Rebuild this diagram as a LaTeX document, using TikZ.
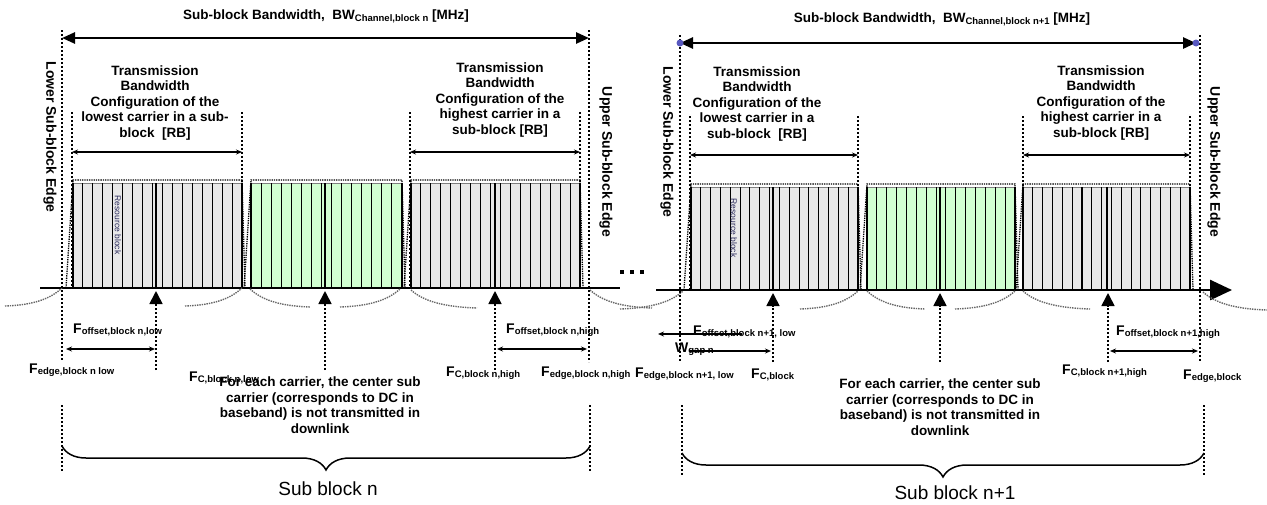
\documentclass[tikz,border=0pt]{standalone}
\usepackage{fontspec}
\setmainfont{Liberation Sans}
\usetikzlibrary{arrows.meta,decorations.pathreplacing}
\newcommand{\FF}[1]{{\fontsize{14}{14}\selectfont F}{\fontsize{9.5}{10}\selectfont\raisebox{-1.5pt}{#1}}}
\newcommand{\rbregion}[6]{% x0 x1 nbars fill ytop ybase
  \fill[#4] (#1,#5) rectangle (#2,#6);
  \draw[gray, line width=0.6pt] (#1,#5) -- (#2,#5);
  \foreach \k in {0,...,#3} \draw[line width=1.1pt] ({#1+\k*(#2-#1)/#3},#5) -- ({#1+\k*(#2-#1)/#3},#6);
  \draw[densely dotted, line width=1.3pt] ({#1-7},#6) -- (#1,{#5-3}) -- (#2,{#5-3}) -- ({#2+3},#6);
}
\newcommand{\riseArc}[3]{\draw[arcst] (#1,{#3+18}) .. controls ({(#1+#2)/2},{#3+17}) and ({#2-12},{#3+11}) .. (#2,#3);}
\newcommand{\fallArc}[3]{\draw[arcst] (#1,#3) .. controls ({#1+12},{#3+11}) and ({(#1+#2)/2},{#3+17}) .. (#2,{#3+18});}
\tikzset{
  vdot/.style={line width=1.7pt, dash pattern=on 1.7pt off 2.3pt},
  arcst/.style={gray!80!black, line width=1.4pt, densely dotted},
  lbl/.style={font=\bfseries\fontsize{13.5}{15.5}\selectfont, align=center, inner sep=0pt},
  flbl/.style={font=\bfseries, anchor=base west, inner sep=0pt},
  sidelbl/.style={font=\bfseries\fontsize{14}{15}\selectfont, rotate=-90, inner sep=0pt},
  ttl/.style={font=\bfseries\fontsize{13.5}{15}\selectfont, inner sep=0pt},
  bigarrow/.style={line width=2.6pt, {Triangle[length=13pt,width=11pt]}-{Triangle[length=13pt,width=11pt]}},
  smallarrow/.style={line width=1.2pt, {Stealth[length=6pt,width=5pt]}-{Stealth[length=6pt,width=5pt]}},
  uparrow/.style={vdot, -{Triangle[length=13pt,width=13pt]}},
  rbtext/.style={font=\fontsize{8.5}{9}\selectfont, rotate=-90, text={rgb,255:red,40;green,40;blue,90}, inner sep=0pt},
  subblk/.style={font=\fontsize{19}{21}\selectfont, inner sep=0pt},
  brc/.style={decorate, decoration={brace, mirror, amplitude=24pt}, line width=1.5pt}
}
\begin{document}
\begin{tikzpicture}[x=1pt,y=-1pt]
\useasboundingbox (0,0) rectangle (1267,504);

% ================= LEFT SUB-BLOCK =================
\rbregion{73}{242}{17}{gray!17}{183}{288}
\rbregion{251}{402}{15}{green!18}{183}{288}
\rbregion{411}{580}{17}{gray!17}{183}{288}
\foreach \c in {156,325,495} \draw[line width=2pt] (\c,183) -- (\c,288);
\node[rbtext] (rbl) at (118,225) {Resource block};

\draw[line width=2.6pt] (40,288) -- (620,288);

\riseArc{5}{62}{288}
\riseArc{185}{242}{288}
\fallArc{250}{310}{289}
\riseArc{340}{400}{289}
\fallArc{411}{477}{290}
\fallArc{590}{652}{290}

% tall dotted lines
\coordinate (Ltl) at (62,30); \coordinate (Lbl) at (62,360);
\coordinate (Rtl) at (589,30); \coordinate (Rbl) at (589,362);
\draw[vdot] (Ltl) -- (Lbl);
\draw[vdot] (Rtl) -- (Rbl);
\foreach \xx in {72,242,410,580} \draw[vdot] (\xx,112) -- (\xx,288);

% top arrow and title
\coordinate (TAl) at (62,38); \coordinate (TAr) at (589,38);
\draw[bigarrow] (TAl) -- (TAr);
\node[ttl] (titleL) at (326,16) {Sub-block Bandwidth,~~BW{\fontsize{9.5}{10}\selectfont\raisebox{-2pt}{Channel,block n}} [MHz]};

\node[sidelbl] (lowL) at (50,137) {Lower Sub-block Edge};
\node[sidelbl] (upL) at (606,162) {Upper Sub-block Edge};

\node[lbl] (tbL1) at (155,103) {Transmission\\Bandwidth\\Configuration of the\\lowest carrier in a sub-\\block~~[RB]};
\node[lbl] (tbL2) at (500,100) {Transmission\\Bandwidth\\Configuration of the\\highest carrier in a\\sub-block [RB]};
\coordinate (a1l) at (72,152); \coordinate (a1r) at (242,152);
\coordinate (a2l) at (410,152); \coordinate (a2r) at (580,152);
\draw[smallarrow] (a1l) -- (a1r);
\draw[smallarrow] (a2l) -- (a2r);

% up arrows
\foreach \c/\n in {156/ua1,325/ua2,495/ua3} {
  \coordinate (\n b) at (\c,370); \coordinate (\n t) at (\c,291);
  \draw[uparrow] (\n b) -- (\n t);
}

% offset arrows
\coordinate (o1l) at (66,349); \coordinate (o1r) at (155,349);
\draw[smallarrow] (o1l) -- (o1r);
\coordinate (o2l) at (497,349); \coordinate (o2r) at (587,349);
\draw[smallarrow] (o2l) -- (o2r);

\node[flbl] (foffL) at (73,333) {\FF{offset,block n,low}};
\node[flbl] (fedgeL) at (29,373) {\FF{edge,block n low}};
\node[flbl] (fcL) at (189,381) {\FF{C,block n,low}};
\node[lbl] (noteL) at (320,405) {For each carrier, the center sub\\carrier (corresponds to DC in\\baseband) is not transmitted in\\downlink};
\node[flbl] (foffH) at (506,333) {\FF{offset,block n,high}};
\node[flbl] (fcH) at (446,376) {\FF{C,block n,high}};
\node[flbl] (fedgeH) at (541,376) {\FF{edge,block n,high}};

% bottom dotted and brace
\coordinate (bL1) at (62,405); \coordinate (bL2) at (62,472);
\coordinate (bR1) at (590,405); \coordinate (bR2) at (590,472);
\draw[vdot] (bL1) -- (bL2);
\draw[vdot] (bR1) -- (bR2);
\coordinate (brL) at (62,446); \coordinate (brR) at (590,446);
\draw[brc] (brL) -- (brR);
\node[subblk] (sbn) at (328,489) {Sub block n};

% dots
\foreach \xx in {622,632,642} \fill (\xx-2,270) rectangle (\xx+2,274);

% ================= RIGHT SUB-BLOCK =================
\rbregion{691}{858}{17}{gray!17}{187}{290}
\rbregion{867}{1015}{15}{green!18}{187}{290}
\rbregion{1023}{1190}{17}{gray!17}{187}{290}
\foreach \c in {773,940,1107} \draw[line width=2pt] (\c,187) -- (\c,290);
\node[rbtext] (rbr) at (734,228) {Resource block};

\coordinate (BLs) at (656,290); \coordinate (BLe) at (1232,290);
\draw[line width=2.6pt, -{Triangle[length=22pt,width=20pt]}] (BLs) -- (BLe);

\riseArc{620}{683}{291}
\riseArc{800}{858}{291}
\fallArc{867}{925}{291}
\riseArc{955}{1015}{291}
\fallArc{1023}{1090}{291}
\fallArc{1203}{1267}{292}

\coordinate (Ltr) at (680,35); \coordinate (Lbr) at (680,362);
\coordinate (Rtr) at (1200,35); \coordinate (Rbr) at (1200,362);
\draw[vdot] (Ltr) -- (Lbr);
\draw[vdot] (Rtr) -- (Rbr);
\foreach \xx in {690,858,1023,1190} \draw[vdot] (\xx,116) -- (\xx,290);

\coordinate (TBl) at (680,43); \coordinate (TBr) at (1196,43);
\draw[bigarrow] (TBl) -- (TBr);
\fill[blue!45!gray!90!white] (TBl) circle (3.5pt);
\fill[blue!45!gray!90!white] (TBr) circle (3.5pt);
\node[ttl] (titleR) at (942,19) {Sub-block Bandwidth,~~BW{\fontsize{9.5}{10}\selectfont\raisebox{-2pt}{Channel,block n+1}} [MHz]};

\node[sidelbl] (lowR) at (667,142) {Lower Sub-block Edge};
\node[sidelbl] (upR) at (1214,162) {Upper Sub-block Edge};

\node[lbl] (tbR1) at (757,104) {Transmission\\Bandwidth\\Configuration of the\\lowest carrier in a\\sub-block~~[RB]};
\node[lbl] (tbR2) at (1101,103) {Transmission\\Bandwidth\\Configuration of the\\highest carrier in a\\sub-block [RB]};
\coordinate (b1l) at (690,155); \coordinate (b1r) at (858,155);
\coordinate (b2l) at (1023,155); \coordinate (b2r) at (1190,155);
\draw[smallarrow] (b1l) -- (b1r);
\draw[smallarrow] (b2l) -- (b2r);

\foreach \c/\n in {773/ub1,940/ub2,1108/ub3} {
  \coordinate (\n b) at (\c,362); \coordinate (\n t) at (\c,293);
  \draw[uparrow] (\n b) -- (\n t);
}

\coordinate (p1l) at (658,334); \coordinate (p1r) at (742,334);
\draw[line width=1.2pt, {Stealth[length=6pt,width=5pt]}-] (p1l) -- (p1r);
\coordinate (p2l) at (690,351); \coordinate (p2r) at (771,351);
\draw[line width=1.2pt, -{Stealth[length=6pt,width=5pt]}] (p2l) -- (p2r);
\coordinate (p3l) at (1110,351); \coordinate (p3r) at (1198,351);
\draw[smallarrow] (p3l) -- (p3r);

\node[flbl] (foffRL) at (693,335) {\FF{offset,block n+1, low}};
\node[flbl] (wgap) at (675,352) {{\fontsize{14}{14}\selectfont W}{\fontsize{9.5}{10}\selectfont\raisebox{-1.5pt}{gap n}}};
\node[flbl] (fedgeRL) at (635,377) {\FF{edge,block n+1, low}};
\node[flbl] (fcRL) at (751,378) {\FF{C,block}};
\node[lbl] (noteR) at (940,407) {For each carrier, the center sub\\carrier (corresponds to DC in\\baseband) is not transmitted in\\downlink};
\node[flbl] (foffRH) at (1116,335) {\FF{offset,block n+1,high}};
\node[flbl] (fcRH) at (1062,374) {\FF{C,block n+1,high}};
\node[flbl] (fedgeRH) at (1183,379) {\FF{edge,block}};

\coordinate (cL1) at (682,405); \coordinate (cL2) at (682,475);
\coordinate (cR1) at (1204,405); \coordinate (cR2) at (1204,476);
\draw[vdot] (cL1) -- (cL2);
\draw[vdot] (cR1) -- (cR2);
\coordinate (crL) at (682,453); \coordinate (crR) at (1204,453);
\draw[brc] (crL) -- (crR);
\node[subblk] (sbn1) at (955,493) {Sub block n+1};
\end{tikzpicture}
\end{document}
